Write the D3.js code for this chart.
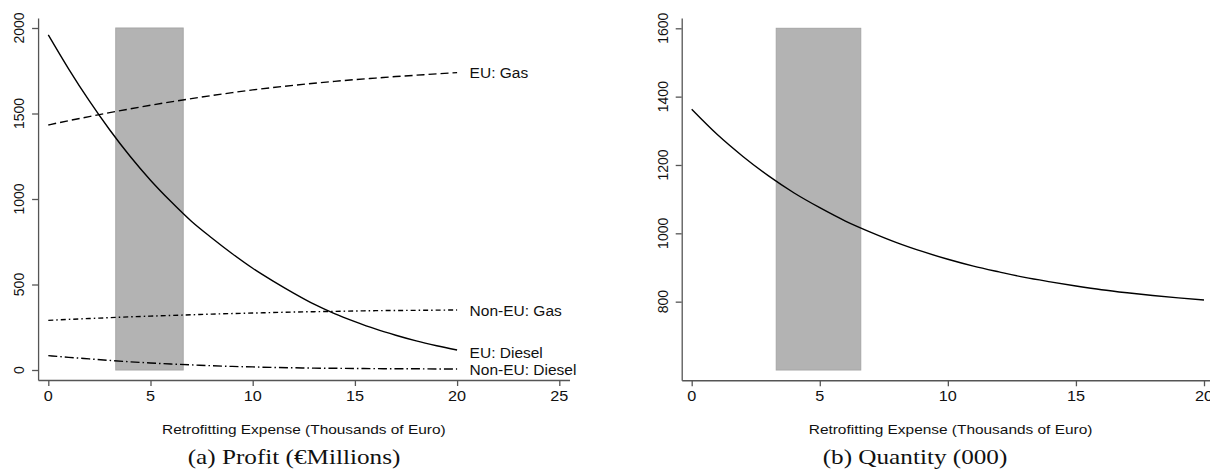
<!DOCTYPE html>
<html>
<head>
<meta charset="utf-8">
<script src="https://cdn.jsdelivr.net/npm/d3@7"></script>
<style>
  html, body { margin: 0; padding: 0; background: #fff; }
</style>
</head>
<body>
<svg id="chart" width="1210" height="475"></svg>
<script>
// ---------- data ----------
const expense = [0, 1, 2, 3, 4, 5, 6, 7, 8, 9, 10, 11, 12, 13, 14, 15, 16, 17, 18, 19, 20];
const euGas = [1433, 1458, 1482, 1505, 1527, 1548, 1568, 1587, 1605, 1622, 1638, 1652, 1665, 1677, 1688, 1698, 1707, 1716, 1724, 1732, 1739];
const euDiesel = [1960, 1760, 1575, 1405, 1250, 1110, 985, 870, 772, 680, 595, 520, 450, 385, 330, 283, 240, 203, 170, 142, 117];
const nonEuGas = [290, 296, 301, 306, 311, 315, 319, 323, 327, 330, 333, 336, 339, 341, 343, 345, 347, 348, 349, 350, 351];
const nonEuDiesel = [84, 74, 65, 56, 48, 41, 35, 30, 25, 21, 18, 15, 13, 11, 10, 9, 8, 7, 7, 6, 6];
const quantity = [1363, 1289, 1225, 1168, 1118, 1075, 1036, 1003, 973, 947, 924, 904, 887, 871, 858, 846, 835, 826, 818, 811, 805];

const band = [3.3, 6.6];
const profitTicks = [0, 500, 1000, 1500, 2000];
const quantityTicks = [800, 1000, 1200, 1400, 1600];
const xTicksLeft = [0, 5, 10, 15, 20, 25];
const xTicksRight = [0, 5, 10, 15, 20];

const profitSeries = [
  { name: 'EU: Gas', values: euGas, dash: '8,4', dy: 0 },
  { name: 'Non-EU: Gas', values: nonEuGas, dash: '5,3,1.5,3', dy: 1 },
  { name: 'EU: Diesel', values: euDiesel, dash: null, dy: 3 },
  { name: 'Non-EU: Diesel', values: nonEuDiesel, dash: '9,3,1.5,3', dy: 1 },
];

const svg = d3.select('#chart');
const SANS = "'Liberation Sans', Arial, sans-serif";
const SERIF = "'Liberation Serif', 'Times New Roman', serif";
const AXIS_COLOR = '#555';
const STRETCH = 1.18;

// text helper: the original picture is stretched a bit horizontally
function label(g, str, x, y, opts) {
  const o = Object.assign({ size: 13, anchor: 'middle', font: SANS, rotate: 0, sx: STRETCH, baseline: 'auto' }, opts);
  return g.append('text')
    .text(str)
    .attr('transform', `translate(${x},${y}) scale(${o.sx},1) rotate(${o.rotate})`)
    .attr('text-anchor', o.anchor)
    .attr('dominant-baseline', o.baseline)
    .attr('font-size', o.size + 'px')
    .attr('font-family', o.font)
    .attr('fill', '#111');
}

function panel(cfg) {
  const g = svg.append('g');
  const x = cfg.x, y = cfg.y;

  // shaded band
  g.append('rect')
    .attr('x', x(band[0]))
    .attr('y', y(y.domain()[1]))
    .attr('width', x(band[1]) - x(band[0]))
    .attr('height', y(y.domain()[0]) - y(y.domain()[1]))
    .attr('fill', '#b3b3b3')
    .attr('stroke', '#a6a6a6')
    .attr('stroke-width', 1);

  // axes (padded scales so the axis line runs past the data range)
  const yAxisScale = y.copy().domain(cfg.yPad).range(cfg.yPad.map(y));
  const xAxisScale = x.copy().domain(cfg.xPad).range(cfg.xPad.map(x));
  const axisX = xAxisScale.range()[0];
  const axisY = yAxisScale.range()[0];

  const ya = g.append('g')
    .attr('transform', `translate(${axisX},0)`)
    .call(d3.axisLeft(yAxisScale).tickValues(cfg.yTicks).tickSize(6).tickSizeOuter(0).tickFormat(''));
  const xa = g.append('g')
    .attr('transform', `translate(0,${axisY})`)
    .call(d3.axisBottom(xAxisScale).tickValues(cfg.xTicks).tickSize(6).tickSizeOuter(0).tickFormat(''));
  [ya, xa].forEach(a => {
    a.selectAll('path, line').attr('stroke', AXIS_COLOR).attr('stroke-width', 1.3);
  });

  cfg.yTicks.forEach(t => label(g, t, axisX - 19, y(t), { rotate: -90, size: 14, sx: 1.1, baseline: 'central' }));
  cfg.xTicks.forEach(t => label(g, t, x(t), axisY + 21, { size: 14.5, sx: 1.12 }));

  label(g, 'Retrofitting Expense (Thousands of Euro)', (xAxisScale.range()[0] + xAxisScale.range()[1]) / 2, 434, { size: 13.3, sx: 1.16 });
  label(g, cfg.caption, cfg.captionX, 464, { size: 21, font: SERIF, sx: 1.2 });

  return g;
}

/****************** (a) Profit ******************/
const xL = d3.scaleLinear().domain([0, 25]).range([48.3, 559.3]);
const yL = d3.scaleLinear().domain([0, 2000]).range([370, 28]);
const gL = panel({ x: xL, y: yL, xPad: [-0.5, 25.5], yPad: [-58.5, 2058], yTicks: profitTicks, xTicks: xTicksLeft, caption: '(a) Profit (€Millions)', captionX: 294 });

const lineL = d3.line().x((d, i) => xL(expense[i])).y(d => yL(d)).curve(d3.curveMonotoneX);
profitSeries.forEach(s => {
  gL.append('path')
    .attr('d', lineL(s.values))
    .attr('fill', 'none')
    .attr('stroke', '#000')
    .attr('stroke-width', 1.4)
    .attr('stroke-dasharray', s.dash);
  label(gL, s.name, xL(expense[expense.length - 1]) + 12.5, yL(s.values[s.values.length - 1]) + s.dy,
    { anchor: 'start', size: 14.5, baseline: 'central', sx: 1.07 });
});

/****************** (b) Quantity ******************/
const xR = d3.scaleLinear().domain([0, 20]).range([691.7, 1204]);
const yR = d3.scaleLinear().domain([600, 1600]).range([370, 28.3]);
const gR = panel({ x: xR, y: yR, xPad: [-0.39, 20.6], yPad: [570, 1630], yTicks: quantityTicks, xTicks: xTicksRight, caption: '(b) Quantity (000)', captionX: 915 });

const lineR = d3.line().x((d, i) => xR(expense[i])).y(d => yR(d)).curve(d3.curveMonotoneX);
gR.append('path')
  .attr('d', lineR(quantity))
  .attr('fill', 'none')
  .attr('stroke', '#000')
  .attr('stroke-width', 1.4);
</script>
</body>
</html>
